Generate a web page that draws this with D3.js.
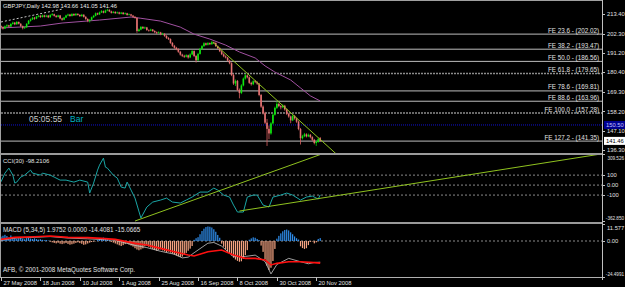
<!DOCTYPE html>
<html>
<head>
<meta charset="utf-8">
<script src="https://cdn.jsdelivr.net/npm/d3@7"></script>
<style>
body { margin: 0; background: #000; }
svg { display: block; }
text { font-family: "Liberation Sans", Arial, sans-serif; }
</style>
</head>
<body>
<svg id="chart" width="625" height="287"></svg>
<script>
// GBPJPY daily, one row per bar: [open, high, low, close]
var bars = [
  [206.6,207.0,205.4,206.0],[206.0,206.5,204.6,205.2],[205.2,206.9,205.0,206.4],[206.4,207.6,206.0,207.0],
  [207.0,207.3,205.8,206.3],[206.3,208.2,206.1,207.8],[207.8,209.1,207.4,208.5],[208.5,208.9,207.1,207.6],
  [207.6,209.4,207.3,208.9],[208.9,209.2,207.5,207.9],[207.9,208.2,206.1,206.5],[206.5,206.9,204.7,205.4],
  [205.4,206.4,205.0,205.9],[205.9,208.3,205.6,207.8],[207.8,210.0,207.5,209.6],[209.6,210.9,209.1,210.4],
  [210.4,211.8,210.0,211.3],[211.3,211.7,210.2,210.8],[210.8,212.4,210.5,211.9],[211.9,212.9,211.5,212.4],
  [212.4,212.8,211.2,211.7],[211.7,213.1,211.4,212.6],[212.6,213.0,211.5,211.9],[211.9,213.0,211.6,212.5],
  [212.5,212.9,211.1,211.6],[211.6,213.3,211.3,212.8],[212.8,213.9,212.5,213.3],[213.3,213.6,212.0,212.4],
  [212.4,212.8,211.3,211.8],[211.8,213.0,211.5,212.6],[212.6,212.9,210.5,210.9],[210.9,211.3,209.6,210.2],
  [210.2,211.8,209.9,211.4],[211.4,213.0,211.1,212.6],[212.6,213.6,212.2,213.1],[213.1,213.5,211.9,212.3],
  [212.3,213.9,212.0,213.4],[213.4,213.8,212.3,212.7],[212.7,214.0,212.4,213.5],[213.5,213.8,212.5,212.9],
  [212.9,213.3,211.8,212.2],[212.2,213.5,211.9,213.0],[213.0,213.3,211.4,211.8],[211.8,212.2,210.1,210.6],
  [210.6,211.0,208.8,209.5],[209.5,210.6,208.6,210.1],[210.1,212.0,209.8,211.6],[211.6,212.9,211.2,212.4],
  [212.4,214.3,212.1,213.8],[213.8,214.2,212.8,213.2],[213.2,214.8,212.9,214.3],[214.3,215.6,214.0,215.0],
  [215.0,215.4,213.8,214.2],[214.2,215.9,213.9,215.4],[215.4,216.4,215.0,215.8],[215.8,216.1,214.5,214.9],
  [214.9,215.3,213.7,214.1],[214.1,215.1,213.8,214.6],[214.6,215.0,213.5,213.9],[213.9,214.8,213.6,214.3],
  [214.3,214.7,213.2,213.6],[213.6,214.6,213.3,214.2],[214.2,214.5,213.0,213.4],[213.4,214.3,213.1,213.8],
  [213.8,214.1,212.5,212.9],[212.9,213.7,212.6,213.2],[213.2,213.5,212.1,212.5],[212.5,212.9,211.4,211.8],
  [211.8,212.3,210.8,211.2],[211.2,211.6,202.8,203.8],[203.8,205.2,203.3,204.6],[204.6,206.6,204.2,206.1],
  [206.1,206.5,204.9,205.3],[205.3,206.3,205.0,205.8],[205.8,206.1,203.9,204.3],[204.3,204.7,203.4,204.0],
  [204.0,205.1,203.7,204.6],[204.6,204.9,203.3,203.8],[203.8,204.2,202.6,203.1],[203.1,203.5,202.0,202.6],
  [202.6,203.6,202.3,203.0],[203.0,203.3,201.4,201.9],[201.9,202.8,201.5,202.2],[202.2,202.5,200.5,201.0],
  [201.0,201.4,199.3,199.8],[199.8,200.3,198.7,199.2],[199.2,199.6,196.5,197.0],[197.0,197.5,194.8,195.4],
  [195.4,195.9,193.7,194.3],[194.3,194.8,192.9,193.5],[193.5,194.0,191.4,192.0],[192.0,192.5,189.8,190.4],
  [190.4,190.9,189.0,189.7],[189.7,190.3,188.5,189.2],[189.2,190.6,188.8,190.0],[190.0,190.4,188.1,188.8],
  [188.8,191.1,188.4,190.5],[190.5,193.0,190.1,192.4],[192.4,192.8,189.0,189.6],[189.6,190.1,185.9,187.2],
  [187.2,191.4,186.8,190.8],[190.8,194.2,190.4,193.6],[193.6,195.8,193.1,195.2],[195.2,197.4,194.8,196.8],
  [196.8,197.2,195.5,196.0],[196.0,197.5,195.6,196.9],[196.9,197.3,195.8,196.3],[196.3,198.1,196.0,197.4],
  [197.4,197.8,196.4,197.0],[197.0,197.4,194.7,195.2],[195.2,195.6,193.5,194.0],[194.0,194.5,191.8,192.3],
  [192.3,192.8,190.1,190.6],[190.6,191.2,188.9,189.4],[189.4,190.0,188.2,188.7],[188.7,189.1,186.5,187.0],
  [187.0,187.5,184.9,185.5],[185.5,186.0,178.2,178.8],[178.8,179.4,173.2,174.0],[174.0,176.3,172.6,175.5],
  [175.5,176.0,169.8,170.4],[170.4,171.2,165.6,168.6],[168.6,173.6,168.0,172.9],[172.9,177.4,172.4,176.8],
  [176.8,179.5,176.2,178.6],[178.6,179.1,176.9,177.5],[177.5,178.0,173.8,174.4],[174.4,175.0,172.8,173.6],
  [173.6,175.9,173.1,175.3],[175.3,176.0,174.2,174.8],[174.8,175.3,173.2,173.9],[173.9,174.4,166.8,167.5],
  [167.5,168.1,160.2,160.9],[160.9,161.6,156.4,157.2],[157.2,158.0,151.0,151.8],[151.8,153.9,138.6,148.3],
  [148.3,150.2,142.4,145.7],[145.7,152.1,145.0,151.4],[151.4,157.0,150.8,156.3],[156.3,160.9,155.8,160.2],
  [160.2,163.8,159.6,162.4],[162.4,163.1,160.6,161.2],[161.2,161.8,159.4,160.5],[160.5,162.2,160.0,161.4],
  [161.4,161.9,158.6,159.3],[159.3,159.8,156.1,156.8],[156.8,157.4,154.6,155.3],[155.3,155.8,151.5,153.1],
  [153.1,156.3,152.7,155.6],[155.6,156.2,153.5,154.2],[154.2,154.7,151.7,152.4],[152.4,152.9,147.5,148.2],
  [148.2,148.8,139.4,143.0],[143.0,144.9,142.3,144.1],[144.1,146.0,143.6,145.2],[145.2,145.8,143.4,144.0],
  [144.0,145.6,143.6,144.9],[144.9,145.4,142.9,143.6],[143.6,144.1,141.4,142.1],[142.1,142.6,139.5,140.3],
  [140.3,141.5,138.6,140.9],[140.9,143.2,140.4,142.5],[142.98,143.66,141.05,141.46]
];

// moving average, read at some bars: [bar, price]
var maPoints = [[0,205.5],[20,206.6],[31,208.3],[50,210.0],[66,211.7],[71,211.0],[81,209.4],[91,206.0],
  [98,202.0],[106,199.2],[114,195.8],[121,191.9],[129,188.5],[134,184.0],[139,180.5],[147,176.0],
  [152,171.5],[157,167.0],[162,164.1]];

// fibo expansion levels
var feNames = ["23.6","38.2","50.0","61.8","78.6","88.6","100.0","127.2"];
var feValues = [202.02,193.47,186.56,179.65,169.81,163.96,157.28,141.35];
var feDashed = [false,false,false,true,false,false,true,false];

var priceTicks = [213.40,202.30,191.20,180.40,169.30,158.20,147.10,136.30];
var bidLine = 150.50;

var dateIdx = [0,20,40,60,80,100,120,140,160];
var dateLabels = ["27 May 2008","18 Jun 2008","10 Jul 2008","1 Aug 2008","25 Aug 2008",
  "16 Sep 2008","8 Oct 2008","30 Oct 2008","20 Nov 2008"];

// CCI(30), [bar, value]
var cci = [[0,33],[2,120],[4,170],[6,100],[7,20],[8,30],[10,80],[12,100],[15,150],[16,120],[20,100],
  [21,120],[25,100],[27,80],[30,50],[33,50],[37,30],[40,50],[44,30],[45,-80],[47,20],[49,150],[50,200],
  [52,270],[53,180],[54,170],[57,100],[59,70],[61,-20],[63,-30],[64,30],[66,-50],[68,-130],[71,-330],
  [74,-220],[77,-170],[81,-150],[84,-130],[87,-170],[91,-180],[94,-150],[97,-120],[101,-70],[105,-70],
  [108,-30],[110,-50],[113,-100],[116,-120],[118,-200],[120,-270],[123,-270],[125,-120],[128,-100],
  [130,-100],[133,-200],[136,-220],[138,-120],[142,-100],[145,-80],[148,-100],[152,-150],[155,-120],
  [158,-110],[161,-140],[162,-98.21]];
var cciTicks = [309.526,100,0,-100,-362.85];
var cciTickLabels = ["309.526","100","0.00","-100","-362.850"];
var cciLevels = [100,0,-100];

// MACD(5,34,5)
var macdHist = [3.0,3.6,4.2,3.4,2.4,3.8,2.8,2.0,
  1.5,1.8,2.2,1.6,1.2,1.9,2.1,1.7,1.4,1.8,1.3,0.9,1.2,0.8,0.5,0.7,0.3,
  -0.4,-0.9,-1.3,-1.6,-1.2,-1.8,-2.1,-1.7,-1.4,-2.0,-2.5,-2.2,-1.8,-1.3,-0.9,-1.4,-1.9,-2.6,-2.3,-1.7,-1.1,-0.7,-0.4,-0.2,
  0.6,1.3,1.9,2.3,1.8,1.2,0.5,
  -0.6,-1.1,-1.7,-2.3,-2.9,-3.4,-2.8,-2.1,-1.6,-2.4,-3.1,-3.8,
  -4.9,-5.8,-6.3,-5.7,-5.0,-3.6,-3.1,-3.9,
  -4.6,-5.4,-6.1,-6.6,-6.0,-5.7,-6.4,-7.0,-7.6,-7.2,-7.9,-8.6,-9.3,-9.9,-10.4,-10.9,
  -10.6,-9.4,-8.1,-6.6,-5.2,-3.4,
  0.8,1.9,2.6,
  4.6,6.8,8.4,9.5,9.9,9.7,9.2,8.0,6.3,4.1,2.2,
  -1.8,-3.9,-5.6,-7.2,-8.5,-9.9,-11.3,-12.6,-13.5,-14.1,-13.8,-12.2,-9.6,-6.2,
  0.9,1.8,2.5,2.2,1.4,0.6,
  -3.1,-7.4,-12.5,-16.8,-19.7,-18.2,-13.6,-5.4,
  1.6,3.5,5.2,6.6,7.5,7.8,7.2,5.9,4.6,3.1,1.9,1.0,
  -3.6,-4.8,-5.4,-4.9,-2.8,
  -0.6,-0.3,-1.6,-0.9,
  1.4,1.98];
var macdMain = [[0,0.5],[7,2.0],[17,2.5],[25,3.0],[34,2.0],[44,1.5],[51,1.0],[58,0.5],[68,-3.0],[74,-4.5],
  [81,-7.0],[88,-9.0],[92,-11.5],[95,-11.0],[98,-8.0],[105,-1.5],[108,-1.0],[112,-3.5],[118,-10.7],
  [124,-10.5],[129,-9.6],[134,-14.0],[137,-22.4],[140,-16.0],[146,-11.8],[152,-14.1],[156,-15.5],
  [159,-14.6],[162,-14.41]];
var macdSignal = [[0,1.1],[7,2.5],[17,2.9],[25,3.4],[34,2.5],[44,2.3],[51,1.8],[58,1.1],[68,-1.6],[74,-2.7],
  [81,-5.0],[88,-7.3],[95,-9.5],[98,-10.2],[105,-7.3],[112,-6.1],[118,-9.5],[124,-11.8],[129,-11.8],
  [134,-12.9],[137,-16.3],[140,-15.2],[146,-14.1],[152,-14.1],[159,-14.7],[162,-15.07]];
var macdTicks = [11.577,0,-24.4991];
var macdTickLabels = ["11.577","0.00","-24.4991"];

// hand drawn lines: [[bar, value],[bar, value]]
var dashTrend = [[0,208.9],[31,216.2]];
var priceTrend = [[107.5,197.4],[170,134.2]];
var cciTrendA = [[68,-360],[164,320]];
var cciTrendB = [[121,-260],[304,310]];

var svg = d3.select("#chart");
var W = 625, H = 287, axisX = 602;

svg.append("rect").attr("width", W).attr("height", H).attr("fill", "#000");

var x = d3.scaleLinear().domain([0, 305]).range([1, axisX]);
var yP = d3.scaleLinear().domain([134.6, 220.8]).range([153, 1]);
var yC = d3.scaleLinear().domain([-362.85, 309.526]).range([221.3, 154.2]);
var yM = d3.scaleLinear().domain([-24.4991, 11.577]).range([277, 224]);

var defs = svg.append("defs");
function clip(id, y0, y1) {
  defs.append("clipPath").attr("id", id).append("rect")
    .attr("x", 0).attr("y", y0).attr("width", axisX).attr("height", y1 - y0);
}
clip("cMain", 1, 153);
clip("cCci", 155, 222);
clip("cMacd", 224, 277);

var line = d3.line();

// ---- main pane
var gMain = svg.append("g").attr("clip-path", "url(#cMain)");

feValues.forEach(function(v, i) {
  gMain.append("line")
    .attr("x1", 1).attr("x2", axisX)
    .attr("y1", yP(v)).attr("y2", yP(v))
    .attr("stroke", feDashed[i] ? "#8c8c8c" : "#bdbdbd")
    .attr("stroke-width", feDashed[i] ? 1.4 : 1)
    .attr("stroke-dasharray", feDashed[i] ? "2,1" : null);
  gMain.append("text")
    .attr("x", 599).attr("y", yP(v) - 1.5)
    .attr("text-anchor", "end")
    .attr("fill", "#e0e0e0").attr("font-size", 6.3)
    .text("FE " + feNames[i] + " - (" + v.toFixed(2) + ")");
});

gMain.append("line")
  .attr("x1", 1).attr("x2", axisX)
  .attr("y1", yP(bidLine)).attr("y2", yP(bidLine))
  .attr("stroke", "#1010d0").attr("stroke-dasharray", "1,1");

gMain.append("path")
  .attr("d", line(maPoints.map(function(d) { return [x(d[0]), yP(d[1])]; })))
  .attr("fill", "none").attr("stroke", "#a050a0").attr("stroke-width", 1);

gMain.append("path")
  .attr("d", line(dashTrend.map(function(d) { return [x(d[0]), yP(d[1])]; })))
  .attr("stroke", "#c8c8c8").attr("stroke-dasharray", "2,2").attr("fill", "none");

var candle = gMain.selectAll("g.c").data(bars).enter().append("g");
candle.append("line")
  .attr("x1", function(d, i) { return x(i); })
  .attr("x2", function(d, i) { return x(i); })
  .attr("y1", function(d) { return yP(d[1]); })
  .attr("y2", function(d) { return yP(d[2]); })
  .attr("stroke", function(d) { return d[3] >= d[0] ? "#00d000" : "#d86060"; })
  .attr("stroke-width", 0.8);
candle.append("rect")
  .attr("x", function(d, i) { return x(i) - 0.8; })
  .attr("width", 1.6)
  .attr("y", function(d) { return yP(Math.max(d[0], d[3])); })
  .attr("height", function(d) { return Math.max(0.6, Math.abs(yP(d[0]) - yP(d[3]))); })
  .attr("fill", function(d) { return d[3] >= d[0] ? "#10e810" : "#e47272"; });

gMain.append("path")
  .attr("d", line(priceTrend.map(function(d) { return [x(d[0]), yP(d[1])]; })))
  .attr("stroke", "#8fc21f").attr("fill", "none");

svg.append("text").attr("x", 3).attr("y", 8)
  .attr("fill", "#e8e8e8").attr("font-size", 5.8)
  .text("GBPJPY,Daily  142.98 143.66 141.05 141.46");

svg.append("text").attr("x", 29).attr("y", 122)
  .attr("fill", "#c8c8c8").attr("font-size", 8.5).text("05:05:55");
svg.append("text").attr("x", 70).attr("y", 122)
  .attr("fill", "#00b0c0").attr("font-size", 8.5).text("Bar");

// ---- CCI pane
var gCci = svg.append("g").attr("clip-path", "url(#cCci)");
cciLevels.forEach(function(v) {
  gCci.append("line").attr("x1", 1).attr("x2", axisX)
    .attr("y1", yC(v)).attr("y2", yC(v))
    .attr("stroke", "#8a8a8a").attr("stroke-dasharray", "2,2");
});
gCci.append("path")
  .attr("d", line(cci.map(function(d) { return [x(d[0]), yC(d[1])]; })))
  .attr("fill", "none").attr("stroke", "#1aa6a6").attr("stroke-width", 1);
[cciTrendA, cciTrendB].forEach(function(t) {
  gCci.append("path")
    .attr("d", line(t.map(function(d) { return [x(d[0]), yC(d[1])]; })))
    .attr("stroke", "#8fc21f").attr("fill", "none");
});
svg.append("text").attr("x", 3).attr("y", 163)
  .attr("fill", "#e0e0e0").attr("font-size", 6).text("CCI(30) -98.2106");

// ---- MACD pane
var gMacd = svg.append("g").attr("clip-path", "url(#cMacd)");
gMacd.append("line").attr("x1", 1).attr("x2", axisX)
  .attr("y1", yM(0)).attr("y2", yM(0))
  .attr("stroke", "#8a8a8a").attr("stroke-dasharray", "2,2");
gMacd.selectAll("rect.h").data(macdHist).enter().append("rect")
  .attr("x", function(d, i) { return x(i) - 0.6; })
  .attr("width", 1.2)
  .attr("y", function(d) { return d > 0 ? yM(d) : yM(0); })
  .attr("height", function(d) { return Math.abs(yM(d) - yM(0)); })
  .attr("fill", function(d) { return d > 0 ? "#2f8fef" : "#f6a482"; });
gMacd.append("path")
  .attr("d", line(macdMain.map(function(d) { return [x(d[0]), yM(d[1])]; })))
  .attr("fill", "none").attr("stroke", "#c8c8c8").attr("stroke-width", 0.8);
gMacd.append("path")
  .attr("d", line(macdSignal.map(function(d) { return [x(d[0]), yM(d[1])]; })))
  .attr("fill", "none").attr("stroke", "#ff1010").attr("stroke-width", 1.6);
svg.append("text").attr("x", 3).attr("y", 232)
  .attr("fill", "#e0e0e0").attr("font-size", 6.3)
  .text("MACD (5,34,5) 1.9752 0.0000 -14.4081 -15.0665");
svg.append("text").attr("x", 3).attr("y", 272)
  .attr("fill", "#e0e0e0").attr("font-size", 6.3)
  .text("AFB, \u00a9 2001-2008 MetaQuotes Software Corp.");

// ---- frame, separators
var frame = svg.append("g").attr("fill", "none");
frame.append("line").attr("x1", 0).attr("x2", axisX).attr("y1", 0.5).attr("y2", 0.5).attr("stroke", "#a0a0a0");
frame.append("line").attr("x1", 0.5).attr("x2", 0.5).attr("y1", 0).attr("y2", 277).attr("stroke", "#a0a0a0");
frame.append("line").attr("x1", axisX + 0.5).attr("x2", axisX + 0.5).attr("y1", 0).attr("y2", 280).attr("stroke", "#c0c0c0");
[153, 222].forEach(function(y) {
  svg.append("rect").attr("x", 0).attr("y", y).attr("width", axisX).attr("height", 2).attr("fill", "#9a9a9a");
});
frame.append("line").attr("x1", 0).attr("x2", axisX + 1).attr("y1", 277.5).attr("y2", 277.5).attr("stroke", "#b0b0b0");

// ---- right scales; first/last label of a pane sits inside the pane
function scaleLabels(vals, labels, y, edge) {
  vals.forEach(function(v, i) {
    var ty = y(v) + 2.2;
    if (edge && i === 0) ty = y(v) + 5.5;
    if (edge && i === vals.length - 1) ty = y(v) - 1;
    svg.append("line").attr("x1", axisX).attr("x2", axisX + 3)
      .attr("y1", Math.round(y(v)) + 0.5).attr("y2", Math.round(y(v)) + 0.5).attr("stroke", "#c0c0c0");
    var t = svg.append("text").attr("x", axisX + 5).attr("y", ty)
      .attr("fill", "#e0e0e0").attr("font-size", 5.8).text(labels[i]);
    // long labels: smaller and pinned to the right edge so they stay inside
    if (labels[i].length > 6) t.attr("x", 624).attr("text-anchor", "end").attr("font-size", 4.6);
  });
}
scaleLabels(priceTicks, priceTicks.map(function(v) { return v.toFixed(2); }), yP, false);
scaleLabels(cciTicks, cciTickLabels, yC, true);
scaleLabels(macdTicks, macdTickLabels, yM, true);

function priceBox(v, bg, fg) {
  svg.append("rect").attr("x", axisX + 2).attr("y", yP(v) - 4).attr("width", 21).attr("height", 8).attr("fill", bg);
  svg.append("text").attr("x", axisX + 4).attr("y", yP(v) + 2.1)
    .attr("fill", fg).attr("font-size", 5.8).text(v.toFixed(2));
}
priceBox(bidLine, "#000090", "#c0c0ff");
priceBox(bars[bars.length - 1][3], "#ffffff", "#000000");

// ---- date axis
dateIdx.forEach(function(b, i) {
  var px = Math.round(x(b)) + 0.5;
  svg.append("line").attr("x1", px).attr("x2", px).attr("y1", 277).attr("y2", 281).attr("stroke", "#c0c0c0");
  svg.append("text").attr("x", px + 2).attr("y", 285)
    .attr("fill", "#e0e0e0").attr("font-size", 5.8).text(dateLabels[i]);
});
</script>
</body>
</html>
